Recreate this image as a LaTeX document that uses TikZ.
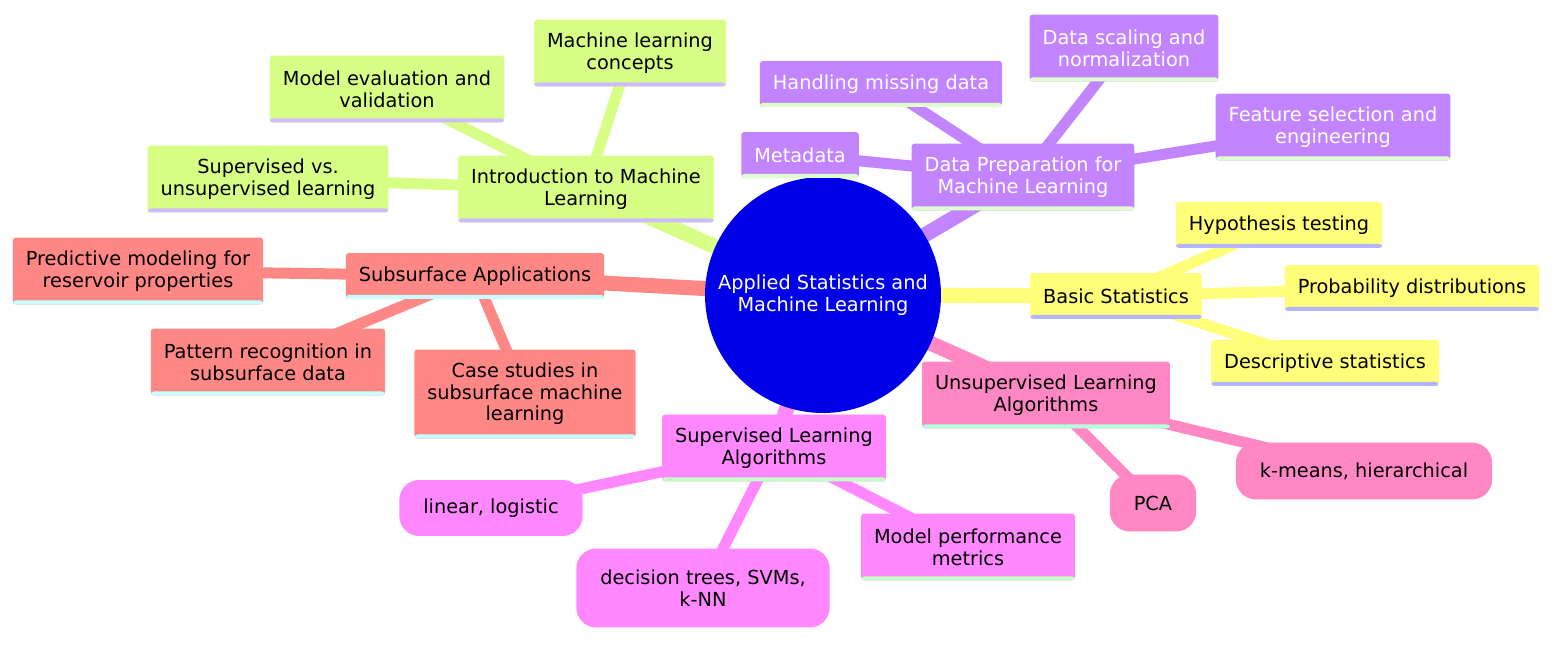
\documentclass[tikz,border=0pt]{standalone}
\usepackage{fontspec}
\setmainfont{DejaVu Sans}
\usetikzlibrary{backgrounds}
\definecolor{rootblue}{RGB}{0,0,232}
\definecolor{cgreen}{RGB}{216,255,133}
\definecolor{cpurple}{RGB}{194,133,255}
\definecolor{cyellow}{RGB}{255,255,122}
\definecolor{cred}{RGB}{255,135,133}
\definecolor{cmag}{RGB}{255,135,255}
\definecolor{cpink}{RGB}{255,135,196}
\definecolor{sgreen}{RGB}{206,188,255}
\definecolor{spurple}{RGB}{222,255,205}
\definecolor{syellow}{RGB}{180,180,255}
\definecolor{sred}{RGB}{200,255,255}
\definecolor{smag}{RGB}{196,255,196}
\definecolor{spink}{RGB}{180,255,222}
\begin{document}
\begin{tikzpicture}[x=.02cm,y=-.02cm,line join=round,line cap=round,font=\fontsize{11}{12.3}\selectfont,
	box/.style={inner xsep=.26cm,inner ysep=0pt,align=center,rounded corners=.06cm},
	leaf/.style={inner xsep=.48cm,inner ysep=0pt,align=center,rounded corners=.4cm,fill=#1},
	bar/.style={path picture={\fill[#1]([yshift=.08cm]path picture bounding box.south west) rectangle (path picture bounding box.south east);}},
	h1/.style={minimum height=.92cm},h2/.style={minimum height=1.34cm},h3/.style={minimum height=1.78cm},
	s1/.style={box,fill=cgreen,bar=sgreen},s2/.style={box,fill=cpurple,bar=spurple,text=white},
	s3/.style={box,fill=cyellow,bar=syellow},s4/.style={box,fill=cred,bar=sred},
	s5/.style={box,fill=cmag,bar=smag},s6/.style={box,fill=cpink,bar=spink},
	trunk/.style={line width=.3cm,#1},twig/.style={line width=.22cm,#1}]
	\useasboundingbox (0,0) rectangle (1568,648);
	\node[circle,fill=rootblue,text=white,minimum size=4.72cm,inner sep=0pt,align=center] (root) at (823,295) {Applied Statistics and\\Machine Learning};
	% green
	\node[s1,h2] (intro) at (586,189) {Introduction to Machine\\Learning};
	\node[s1,h2] (svu) at (268,179) {Supervised vs.\\unsupervised learning};
	\node[s1,h2] (meval) at (387,89) {Model evaluation and\\validation};
	\node[s1,h2] (mlc) at (630,53) {Machine learning\\concepts};
	% purple
	\node[s2,h2] (prep) at (1023,177) {Data Preparation for\\Machine Learning};
	\node[s2,h1] (meta) at (800,155) {Metadata};
	\node[s2,h1] (miss) at (881,84) {Handling missing data};
	\node[s2,h2] (scal) at (1124,48) {Data scaling and\\normalization};
	\node[s2,h2] (feat) at (1333,127) {Feature selection and\\engineering};
	% yellow
	\node[s3,h1] (basic) at (1116,296) {Basic Statistics};
	\node[s3,h1] (hyp) at (1279,225) {Hypothesis testing};
	\node[s3,h1] (prob) at (1412,288) {Probability distributions};
	\node[s3,h1] (desc) at (1325,363) {Descriptive statistics};
	% red
	\node[s4,h1] (subs) at (475,276) {Subsurface Applications};
	\node[s4,h2] (pred) at (138,271) {Predictive modeling for\\reservoir properties};
	\node[s4,h2] (patt) at (268,362) {Pattern recognition in\\subsurface data};
	\node[s4,h3] (case) at (525,394) {Case studies in\\subsurface machine\\learning};
	% magenta
	\node[s5,h2] (sla) at (774,448) {Supervised Learning\\Algorithms};
	\node[leaf=cmag,minimum height=1.12cm] (lin) at (491,508) {linear, logistic};
	\node[leaf=cmag,minimum height=1.58cm] (dtree) at (703,588) {decision trees, SVMs,\\k-NN};
	\node[s5,h2] (perf) at (968,547) {Model performance\\metrics};
	% pink
	\node[s6,h2] (ula) at (1046,395) {Unsupervised Learning\\Algorithms};
	\node[leaf=cpink,minimum height=1.14cm] (pca) at (1153,503) {PCA};
	\node[leaf=cpink,minimum height=1.14cm] (kmh) at (1364,471) {k-means, hierarchical};
	\begin{scope}[on background layer]
		\draw[trunk=cgreen] (root.center)--(intro.center);
		\draw[twig=cgreen] (intro.center)--(svu.center) (intro.center)--(meval.center) (intro.center)--(mlc.center);
		\draw[trunk=cpurple] (root.center)--(prep.center);
		\draw[twig=cpurple] (prep.center)--(meta.center) (prep.center)--(miss.center) (prep.center)--(scal.center) (prep.center)--(feat.center);
		\draw[trunk=cyellow] (root.center)--(basic.center);
		\draw[twig=cyellow] (basic.center)--(hyp.center) (basic.center)--(prob.center) (basic.center)--(desc.center);
		\draw[trunk=cred] (root.center)--(subs.center);
		\draw[twig=cred] (subs.center)--(pred.center) (subs.center)--(patt.center) (subs.center)--(case.center);
		\draw[trunk=cmag] (root.center)--(sla.center);
		\draw[twig=cmag] (sla.center)--(lin.center) (sla.center)--(dtree.center) (sla.center)--(perf.center);
		\draw[trunk=cpink] (root.center)--(ula.center);
		\draw[twig=cpink] (ula.center)--(pca.center) (ula.center)--(kmh.center);
	\end{scope}
\end{tikzpicture}
\end{document}
